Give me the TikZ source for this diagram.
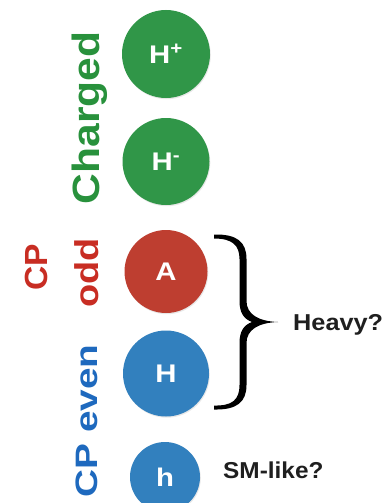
\documentclass[tikz,border=0pt]{standalone}
\usepackage{fontspec}
\usepackage{graphicx}
\setmainfont{Liberation Sans}
\usetikzlibrary{shadows}
\definecolor{cgreen}{RGB}{48,150,72}
\definecolor{cred}{RGB}{190,62,48}
\definecolor{cblue}{RGB}{50,128,190}
\definecolor{tgreen}{RGB}{40,145,60}
\definecolor{tred}{RGB}{200,45,35}
\definecolor{tblue}{RGB}{30,105,190}
\newcommand{\stretchtxt}[2]{\scalebox{#1}[1]{#2}}
\tikzset{
  ball/.style={circle, inner sep=0pt, text=white,
    font=\bfseries\fontsize{25.5}{27}\selectfont,
    drop shadow={opacity=0.18, shadow xshift=0.8pt, shadow yshift=-1.2pt}},
  vlabel/.style={rotate=90, anchor=base, inner sep=0pt, font=\bfseries},
  hlabel/.style={anchor=base west, inner sep=0pt, text=black!88,
    font=\bfseries\fontsize{23}{25}\selectfont},
  bracefill/.style={fill=black, draw=none}
}
\begin{document}
\begin{tikzpicture}[x=1pt,y=-1pt]
\useasboundingbox[fill=white] (0,0) rectangle (390,503);
% circles
\node[ball, fill=cgreen, minimum size=88pt] (hp) at (166,54) {\stretchtxt{1.15}{H\textsuperscript{+}}};
\node[ball, fill=cgreen, minimum size=87pt] (hm) at (166,161.5) {\stretchtxt{1.15}{H\textsuperscript{-}}};
\node[ball, fill=cred, minimum size=83pt] (A) at (166,271.5) {\stretchtxt{1.15}{A}};
\node[ball, fill=cblue, minimum size=86pt] (H) at (166,373.5) {\stretchtxt{1.15}{H}};
\node[ball, fill=cblue, minimum size=70pt] (h) at (165,477) {\stretchtxt{1.15}{h}};
% vertical labels
\node[vlabel, text=tgreen, font=\bfseries\fontsize{38}{40}\selectfont] (lcharged) at (99.5,118) {\stretchtxt{1.12}{Charged}};
\node[vlabel, text=tred, font=\bfseries\fontsize{32}{34}\selectfont] (lcp) at (47,267.5) {\stretchtxt{1.05}{CP}};
\node[vlabel, text=tred, font=\bfseries\fontsize{33}{35}\selectfont] (lodd) at (98,273) {\stretchtxt{1.15}{odd}};
\node[vlabel, text=tblue, font=\bfseries\fontsize{31}{33}\selectfont] (leven) at (97,421) {\stretchtxt{1.25}{CP even}};
% horizontal labels
\node[hlabel] (lheavy) at (293,330) {\stretchtxt{1.1}{Heavy?}};
\node[hlabel] (lsm) at (223,478) {\stretchtxt{1.06}{SM-like?}};
% brace
\fill[bracefill] (214,234.5)
  .. controls (237,234) and (246.5,242) .. (246.5,259)
  -- (246.5,301)
  .. controls (246.5,314) and (258,321.3) .. (278,322)
  .. controls (258,322.7) and (246.5,330) .. (246.5,343)
  -- (246.5,385)
  .. controls (246.5,402) and (237,410) .. (214,409.5)
  -- (214,405.5)
  .. controls (232,406) and (239.5,400) .. (239.5,385)
  -- (239.5,343)
  .. controls (239.5,331) and (244,325) .. (252,322)
  .. controls (244,319) and (239.5,313) .. (239.5,301)
  -- (239.5,259)
  .. controls (239.5,245) and (232,238.5) .. (214,238.5)
  -- cycle;
\end{tikzpicture}
\end{document}
